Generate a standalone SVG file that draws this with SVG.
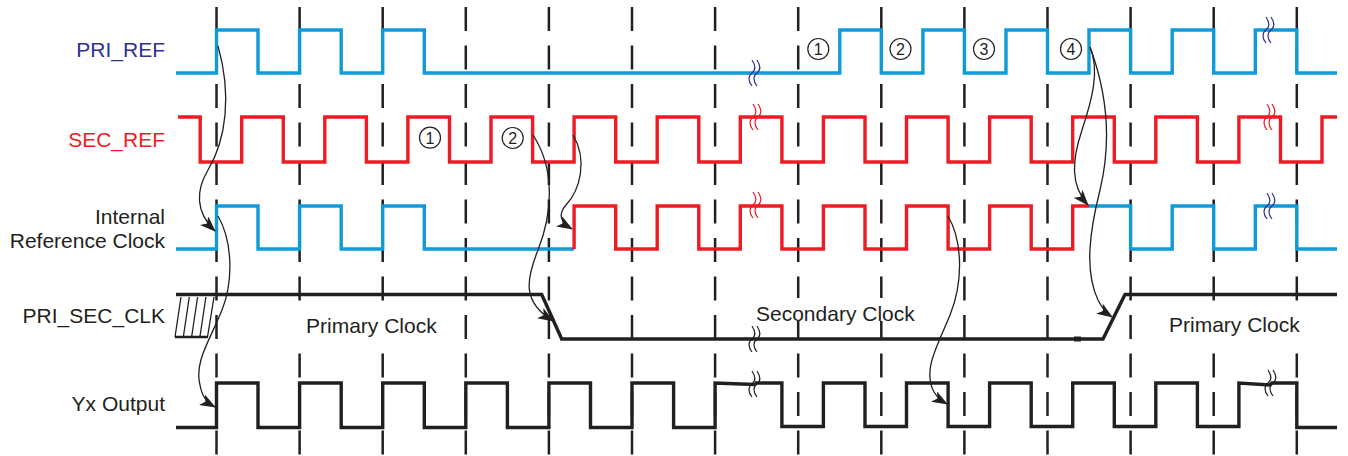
<svg xmlns="http://www.w3.org/2000/svg" width="1348" height="456" viewBox="0 0 1348 456">
<style>
.lbl{font-family:"Liberation Sans",Arial,sans-serif;font-size:21px;fill:#231f20}
.num{font-family:"Liberation Sans",Arial,sans-serif;font-size:16px;fill:#231f20;text-anchor:middle}
.grid{stroke:#231f20;stroke-width:2.5;stroke-dasharray:24 14.5;fill:none}
.blue{stroke:#0f9bd7;stroke-width:3.4;fill:none;stroke-linejoin:miter}
.red{stroke:#ed1c24;stroke-width:3.4;fill:none;stroke-linejoin:miter}
.blk{stroke:#231f20;stroke-width:3.4;fill:none;stroke-linejoin:miter}
.circ{fill:#fff;stroke:#231f20;stroke-width:1.2}
.arr{stroke:#231f20;stroke-width:1.3;fill:none;marker-end:url(#ah)}
.brkB{stroke:#2e3192;stroke-width:1.2;fill:none}
.brkR{stroke:#ed1c24;stroke-width:1.2;fill:none}
.brkK{stroke:#231f20;stroke-width:1.2;fill:none}
.hat{stroke:#231f20;stroke-width:1.3;fill:none}
</style>
<defs>
<marker id="ah" viewBox="0 0 16 12" refX="15" refY="6" markerWidth="16" markerHeight="12" markerUnits="userSpaceOnUse" orient="auto">
<path d="M0,0 L16,6 L0,12 L4,6 Z" fill="#231f20"/>
</marker>
<path id="brk" d="M0,0 C4,6 4,10 0,13 C-4,16 -4,21 0,26 M5,0 C9,6 9,10 5,13 C1,16 1,21 5,26"/>
</defs>
<rect width="1348" height="456" fill="#fff"/>

<g id="grid">
<line class="grid" x1="216.5" y1="7" x2="216.5" y2="456"/>
<line class="grid" x1="299.6" y1="7" x2="299.6" y2="456"/>
<line class="grid" x1="382.7" y1="7" x2="382.7" y2="456"/>
<line class="grid" x1="465.8" y1="7" x2="465.8" y2="456"/>
<line class="grid" x1="548.9" y1="7" x2="548.9" y2="456"/>
<line class="grid" x1="632" y1="7" x2="632" y2="456"/>
<line class="grid" x1="715.1" y1="7" x2="715.1" y2="456"/>
<line class="grid" x1="798.2" y1="7" x2="798.2" y2="456"/>
<line class="grid" x1="881.3" y1="7" x2="881.3" y2="456"/>
<line class="grid" x1="964.4" y1="7" x2="964.4" y2="456"/>
<line class="grid" x1="1047.5" y1="7" x2="1047.5" y2="456"/>
<line class="grid" x1="1130.6" y1="7" x2="1130.6" y2="456"/>
<line class="grid" x1="1213.7" y1="7" x2="1213.7" y2="456"/>
<line class="grid" x1="1296.8" y1="7" x2="1296.8" y2="456"/>
</g>

<g id="labels">
<text class="lbl" x="165" y="57" text-anchor="end" style="fill:#2e3192">PRI_REF</text>
<text class="lbl" x="165" y="147" text-anchor="end" style="fill:#ed1c24">SEC_REF</text>
<text class="lbl" x="165" y="224" text-anchor="end">Internal</text>
<text class="lbl" x="165" y="248" text-anchor="end">Reference Clock</text>
<text class="lbl" x="165" y="323" text-anchor="end">PRI_SEC_CLK</text>
<text class="lbl" x="165" y="411" text-anchor="end">Yx Output</text>
</g>

<g id="region-labels">
<rect x="297" y="312" width="144" height="28" fill="#fff"/>
<text class="lbl" x="306" y="333">Primary Clock</text>
<rect x="752" y="298" width="166" height="23" fill="#fff"/>
<text class="lbl" x="756" y="321">Secondary Clock</text>
<rect x="1160" y="312" width="141" height="28" fill="#fff"/>
<text class="lbl" x="1169" y="332">Primary Clock</text>
</g>

<g id="PRI_REF">
<path class="blue" d="M176,73 H216.5 V30 H258 V73 H299.6 V30 H341.2 V73 H382.7 V30 H424.3 V73 H839.8 V30 H881.3 V73 H922.9 V30 H964.4 V73 H1006 V30 H1047.5 V73 H1089 V30 H1130.6 V73 H1172.2 V30 H1213.7 V73 H1255.3 V30 H1296.8 V73 H1337"/>
<use href="#brk" x="752" y="60" class="brkB"/>
<use href="#brk" x="1266" y="17" class="brkB"/>
</g>

<g id="SEC_REF">
<path class="red" d="M178,117 H200.2 V162 H241.7 V117 H283.3 V162 H324.8 V117 H366.4 V162 H407.9 V117 H449.5 V162 H491 V117 H532.6 V162 H574.1 V117 H615.7 V162 H657.2 V117 H698.8 V162 H740.3 V117 H781.9 V162 H823.4 V117 H865 V162 H906.5 V117 H948.1 V162 H989.6 V117 H1031.2 V162 H1072.7 V117 H1114.3 V162 H1155.8 V117 H1197.4 V162 H1238.9 V117 H1280.5 V162 H1322 V117 H1337"/>
<use href="#brk" x="753" y="104" class="brkR"/>
<use href="#brk" x="1267" y="104" class="brkR"/>
</g>

<g id="INT_REF">
<path class="blue" d="M176,249 H216.5 V206 H258 V249 H299.6 V206 H341.2 V249 H382.7 V206 H424.3 V249 H574.1"/>
<path class="red" d="M574.1,249 V206 H615.7 V249 H657.2 V206 H698.8 V249 H740.3 V206 H781.9 V249 H823.4 V206 H865 V249 H906.5 V206 H948.1 V249 H989.6 V206 H1031.2 V249 H1072.7 V206 H1089"/>
<path class="blue" d="M1089,206 H1130.6 V249 H1172.2 V206 H1213.7 V249 H1255.3 V206 H1296.8 V249 H1337"/>
<use href="#brk" x="753" y="192" class="brkR"/>
<use href="#brk" x="1267" y="193" class="brkB"/>
</g>

<g id="PRI_SEC_CLK">
<path class="blk" d="M176,294.5 H541.7 L561.7,339 H1103 L1125,294.5 H1337"/>
<rect x="1074" y="336.5" width="7" height="5" fill="#231f20"/>
<path class="hat" d="M175,337 L181,297 M183.3,337 L189.3,297 M191.6,337 L197.6,297 M199.9,337 L205.9,297 M207.5,337 L214,297"/>
<line x1="175" y1="337" x2="208" y2="337" stroke="#231f20" stroke-width="2.5"/>
<use href="#brk" x="752" y="326" class="brkK"/>
</g>

<g id="Yx_OUT">
<path class="blk" d="M176,427.5 H216.5 V383 H258 V427.5 H299.6 V383 H341.2 V427.5 H382.7 V383 H424.3 V427.5 H465.8 V383 H507.4 V427.5 H548.9 V383 H590.5 V427.5 H632 V383 H673.6 V427.5 H715.1 V383 L755,384.5"/>
<path class="blk" d="M755,383 H781.9 V426.5 H823.4 V383 H865 V426.5 H906.5 V383 H948.1 V426.5 H989.6 V383 H1031.2 V426.5 H1072.7 V383 H1114.3 V426.5 H1155.8 V383 H1197.4 V426.5 H1238.9 V383 L1270,385 L1272,383 H1296.8 V427.5 H1337"/>
<use href="#brk" x="752" y="371" class="brkK"/>
<use href="#brk" x="1268" y="370" class="brkK"/>
</g>

<g id="markers">
<circle class="circ" cx="818.3" cy="49" r="10.5"/><text class="num" x="818.3" y="55">1</text>
<circle class="circ" cx="900.5" cy="49" r="10.5"/><text class="num" x="900.5" y="55">2</text>
<circle class="circ" cx="984" cy="49" r="10.5"/><text class="num" x="984" y="55">3</text>
<circle class="circ" cx="1071" cy="49" r="10.5"/><text class="num" x="1071" y="55">4</text>
<circle class="circ" cx="430" cy="137.7" r="10.5"/><text class="num" x="430" y="143.7">1</text>
<circle class="circ" cx="512.7" cy="138" r="10.5"/><text class="num" x="512.7" y="144">2</text>
</g>

<g id="connectors">
<path class="arr" d="M218,46 C232,95 226,140 208,170 C196,190 195,212 215,231"/>
<path class="arr" d="M218,216 C232,240 234,280 222,310 C210,340 194,362 200,385 C202,396 206,402 215,407"/>
<path class="arr" d="M533,135 C556,170 552,215 538,250 C526,280 522,302 553,321"/>
<path class="arr" d="M573,135 C588,160 580,190 566,205 C558,214 560,222 572,229"/>
<path class="arr" d="M948,216 C962,240 964,280 950,315 C938,345 922,370 934,392 C937,397 940,400 947,404"/>
<path class="arr" d="M1090,47 C1100,70 1092,100 1082,130 C1072,160 1070,185 1088,205"/>
<path class="arr" d="M1090,47 C1106,90 1112,140 1100,190 C1090,230 1084,270 1098,300 C1102,308 1106,313 1112,317"/>
</g>
</svg>
